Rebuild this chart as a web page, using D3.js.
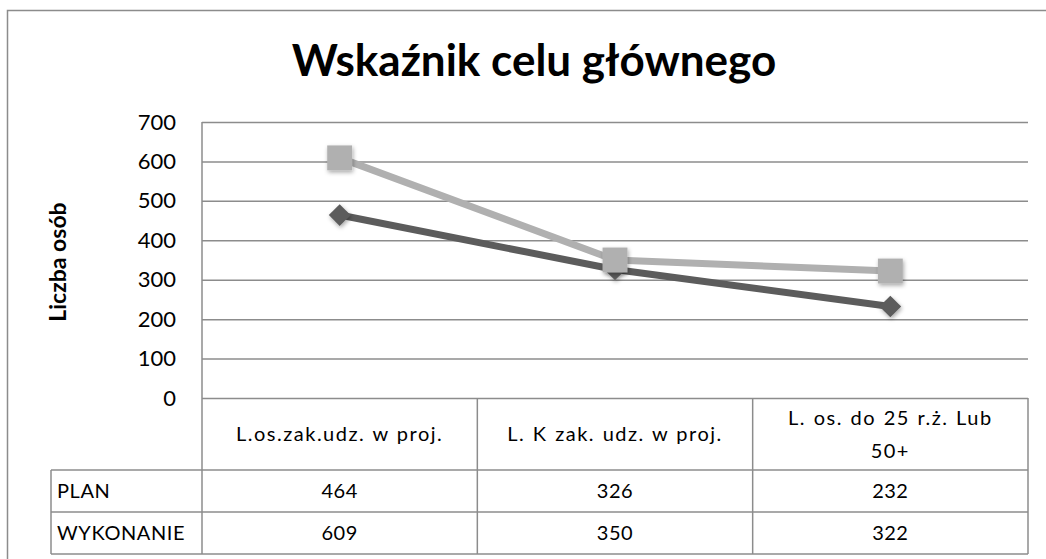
<!DOCTYPE html>
<html>
<head>
<meta charset="utf-8">
<script src="https://cdn.jsdelivr.net/npm/d3@7"></script>
<style>
  html, body { margin: 0; padding: 0; background: #fff; }
  svg { display: block; font-family: Lato, "Open Sans", sans-serif; }
</style>
</head>
<body>
<svg id="chart" width="1046" height="559"></svg>
<script>
var title = "Wskaźnik celu głównego";
var yTitle = "Liczba osób";
var categories = ["L.os.zak.udz. w proj.", "L. K zak. udz. w proj.", "L. os. do 25 r.ż. Lub|50+"];
var seriesNames = ["PLAN", "WYKONANIE"];
var planValues = [464, 326, 232];
var doneValues = [609, 350, 322];
var yTicks = [0, 100, 200, 300, 400, 500, 600, 700];

(function() {
  var W = 1046, H = 559;
  var pLeft = 202, pRight = 1028, pTop = 122, pBottom = 398;
  var tableLeft = 51, headerBottom = 470, rowH = 42;
  var gridCol = "#8c8c8c";
  var colors = ["#5c5c5c", "#b0b0b0"];
  var fs = 20;

  var svg = d3.select('#chart');

  var defs = svg.append('defs');
  var f = defs.append('filter').attr('id', 'shadow').attr('x', '-50%').attr('y', '-50%').attr('width', '200%').attr('height', '200%');
  f.append('feDropShadow').attr('dx', 1).attr('dy', 2).attr('stdDeviation', 2).attr('flood-color', '#000').attr('flood-opacity', 0.35);

  // outer frame
  svg.append('path').attr('d', 'M7.5,' + H + 'V10.5H' + W).attr('fill', 'none').attr('stroke', gridCol).attr('stroke-width', 1.5);

  svg.append('text').attr('x', 534).attr('y', 76).attr('text-anchor', 'middle')
    .attr('font-size', 44).attr('font-weight', 'bold').attr('fill', '#000').text(title);

  var x = d3.scaleBand().domain(d3.range(categories.length)).range([pLeft, pRight]);
  var y = d3.scaleLinear().domain([0, 700]).range([pBottom, pTop]);

  // gridlines + y labels
  var yAxis = d3.axisLeft(y).tickValues(yTicks).tickSize(-(pRight - pLeft)).tickPadding(26);
  var ga = svg.append('g').attr('transform', 'translate(' + pLeft + ',0)').call(yAxis);
  ga.select('.domain').remove();
  ga.selectAll('line').attr('stroke', gridCol).attr('stroke-width', 1.5);
  ga.selectAll('text').attr('font-size', 22).attr('fill', '#000').attr('font-family', 'Lato, sans-serif');
  svg.append('line').attr('x1', pLeft).attr('x2', pLeft).attr('y1', pTop).attr('y2', pBottom)
    .attr('stroke', gridCol).attr('stroke-width', 1.5);

  svg.append('text').attr('transform', 'translate(66,262) rotate(-90)')
    .attr('text-anchor', 'middle').attr('font-size', 23).attr('font-weight', 'bold').text(yTitle);

  // data table
  var tg = svg.append('g').attr('stroke', gridCol).attr('stroke-width', 1.5);
  var rowYs = [headerBottom, headerBottom + rowH, headerBottom + 2 * rowH];
  rowYs.forEach(function(ry) {
    tg.append('line').attr('x1', tableLeft).attr('x2', pRight).attr('y1', ry).attr('y2', ry);
  });
  tg.append('line').attr('x1', tableLeft).attr('x2', tableLeft).attr('y1', headerBottom).attr('y2', rowYs[2]);
  d3.range(categories.length + 1).forEach(function(i) {
    var cx = i < categories.length ? x(i) : pRight;
    tg.append('line').attr('x1', cx).attr('x2', cx).attr('y1', pBottom).attr('y2', rowYs[2]);
  });

  categories.forEach(function(c, i) {
    var parts = c.split('|');
    var t = svg.append('text').attr('text-anchor', 'middle').attr('font-size', fs)
      .attr('letter-spacing', 1.5).attr('word-spacing', 1);
    var cy = (pBottom + headerBottom) / 2 + 7 - (parts.length - 1) * 16.5;
    parts.forEach(function(p, k) {
      t.append('tspan').attr('x', x(i) + x.bandwidth() / 2).attr('y', cy + k * 33).text(p);
    });
  });

  [planValues, doneValues].forEach(function(vals, r) {
    var ty = rowYs[r] + rowH / 2 + 7;
    svg.append('text').attr('x', tableLeft + 6).attr('y', ty).attr('font-size', fs)
      .attr('letter-spacing', 0.6).text(seriesNames[r]);
    vals.forEach(function(v, i) {
      svg.append('text').attr('x', x(i) + x.bandwidth() / 2).attr('y', ty)
        .attr('text-anchor', 'middle').attr('font-size', fs).attr('letter-spacing', 0.5).text(v);
    });
  });

  // lines
  var line = d3.line().x(function(d, i) { return x(i) + x.bandwidth() / 2; }).y(function(d) { return y(d); });
  var series = [planValues, doneValues];
  series.forEach(function(vals, s) {
    svg.append('path').datum(vals).attr('d', line).attr('fill', 'none')
      .attr('stroke', colors[s]).attr('stroke-width', 7).attr('stroke-linejoin', 'round');
  });
  var symbols = [d3.symbol().type(d3.symbolDiamond2).size(300), d3.symbol().type(d3.symbolSquare).size(620)];
  series.forEach(function(vals, s) {
    svg.append('g').selectAll('path').data(vals).enter().append('path')
      .attr('d', symbols[s])
      .attr('transform', function(d, i) { return 'translate(' + (x(i) + x.bandwidth() / 2) + ',' + y(d) + ')'; })
      .attr('fill', colors[s]).attr('filter', 'url(#shadow)');
  });
})();
</script>
</body>
</html>
